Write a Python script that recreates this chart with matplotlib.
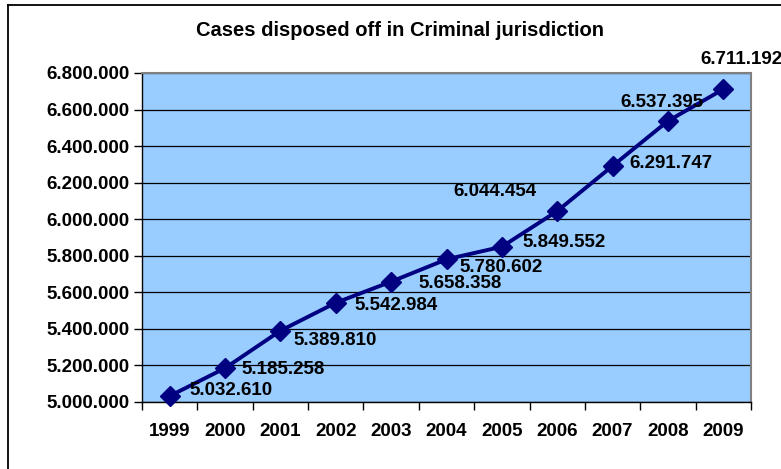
"""Cases disposed off in Criminal jurisdiction, 1999-2009 (Excel-style line chart)."""

import matplotlib

matplotlib.use("Agg")
import matplotlib.pyplot as plt
from matplotlib.lines import Line2D
from matplotlib.ticker import FuncFormatter, MultipleLocator

plt.rcParams["font.family"] = ["Liberation Sans", "DejaVu Sans"]
plt.rcParams["font.weight"] = "bold"

years = ["1999", "2000", "2001", "2002", "2003", "2004", "2005", "2006", "2007", "2008", "2009"]
cases = [5032610, 5185258, 5389810, 5542984, 5658358, 5780602,
         5849552, 6044454, 6291747, 6537395, 6711192]
title = "Cases disposed off in Criminal jurisdiction"

# label offsets in pixels from each point (dragged by hand in the original)
label_offsets = [(20, 6), (16, -1), (13, -10), (19, -3), (27, -2), (13, -8),
                 (21, 4), (-104, 20), (17, 2), (-48, 18), (-23, 30)]


def dotted(v, _pos=None):
    return f"{int(round(v)):,}".replace(",", ".")


fig = plt.figure(figsize=(7.81, 4.69), dpi=100)
ax = fig.add_axes([142 / 781, 1 - 402 / 469, (751 - 142) / 781, (402 - 73) / 469])
ax.set_facecolor("#99CCFF")

xs = list(range(len(years)))
ax.plot(xs, cases, color="#000080", lw=2.8, marker="D", ms=10.5, zorder=3, clip_on=False)

for x, v, (dx, dy) in zip(xs, cases, label_offsets):
    ax.annotate(dotted(v), (x, v), xytext=(dx, dy), textcoords="offset pixels",
                ha="left", va="center", fontsize=13.5, fontweight="bold",
                color="black", zorder=4, annotation_clip=False)

ax.set_xlim(-0.5, len(years) - 0.5)
ax.set_ylim(5000000, 6800000)
ax.yaxis.set_major_locator(MultipleLocator(200000))
ax.yaxis.set_major_formatter(FuncFormatter(dotted))
ax.grid(axis="y", color="black", lw=0.9, zorder=1)
ax.set_axisbelow(True)

# Excel category axis: labels centred, tick marks between categories
ax.set_xticks(xs)
ax.set_xticklabels(years)
ax.set_xticks([x - 0.5 for x in xs] + [len(years) - 0.5], minor=True)
ax.tick_params(axis="x", which="major", length=0, pad=15, labelsize=13.5)
ax.tick_params(axis="x", which="minor", length=6, width=1, color="black")
ax.tick_params(axis="y", length=6, width=1, pad=3, labelsize=13.5)
for lab in ax.get_xticklabels() + ax.get_yticklabels():
    lab.set_fontweight("bold")

for side in ("top", "right"):
    ax.spines[side].set_color("#808080")
    ax.spines[side].set_linewidth(1.5)
for side in ("left", "bottom"):
    ax.spines[side].set_color("black")
    ax.spines[side].set_linewidth(1)

fig.text(400 / 781, 1 - 30 / 469, title, ha="center", va="center",
         fontsize=14.5, fontweight="bold")

# outer chart-area border (only top and left fall inside the picture)
fig.add_artist(Line2D([8 / 781, 8 / 781], [0, 1 - 5 / 469], color="black", lw=1.3,
                      transform=fig.transFigure))
fig.add_artist(Line2D([8 / 781, 1], [1 - 5 / 469, 1 - 5 / 469], color="black", lw=1.3,
                      transform=fig.transFigure))

fig.savefig("out.png", dpi=100)
